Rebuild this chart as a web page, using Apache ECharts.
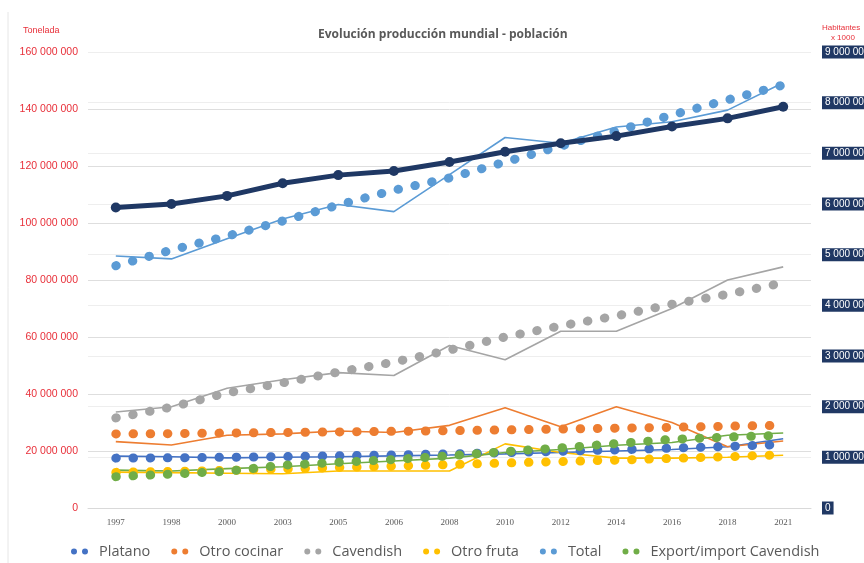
<!DOCTYPE html>
<html>
<head>
<meta charset="utf-8">
<script src="https://cdn.jsdelivr.net/npm/echarts@6/dist/echarts.min.js"></script>
<style>
html,body{margin:0;padding:0;background:#fff;overflow:hidden;}
#chart{width:864px;height:563px;}
</style>
</head>
<body>
<div id="chart"></div>
<script>
// ---- Data ----
var categories = ['1997','1998','2000','2003','2005','2006','2008','2010','2012','2014','2016','2018','2021'];

// Population (habitantes x 1000), right axis
var poblacion = [5930000, 6000000, 6160000, 6410000, 6570000, 6650000, 6830000, 7030000, 7200000, 7340000, 7530000, 7690000, 7920000];

// Dotted series (tonelada)
var platano       = [17.5e6, 17.6e6, 17.8e6, 18.0e6, 18.3e6, 18.6e6, 19.0e6, 19.4e6, 19.9e6, 20.4e6, 21.0e6, 21.6e6, 22.3e6];
var otroCocinar   = [26.0e6, 26.1e6, 26.3e6, 26.5e6, 26.7e6, 26.9e6, 27.1e6, 27.4e6, 27.7e6, 28.0e6, 28.3e6, 28.7e6, 29.0e6];
var cavendish     = [31.6e6, 35.4e6, 40.4e6, 43.9e6, 47.7e6, 51.2e6, 55.4e6, 60.0e6, 63.9e6, 67.4e6, 71.5e6, 75.0e6, 79.0e6];
var otroFruta     = [12.5e6, 12.8e6, 13.2e6, 13.7e6, 14.2e6, 14.7e6, 15.2e6, 15.8e6, 16.3e6, 16.8e6, 17.4e6, 18.0e6, 18.7e6];
var total         = [85.0e6, 90.5e6, 95.4e6, 100.7e6, 106.3e6, 111.5e6, 115.8e6, 121.4e6, 127.0e6, 132.3e6, 137.9e6, 143.2e6, 148.4e6];
var exportImport  = [11.0e6, 11.9e6, 12.9e6, 15.0e6, 16.0e6, 17.0e6, 18.3e6, 19.8e6, 21.1e6, 22.6e6, 24.1e6, 24.9e6, 25.5e6];

// Thin solid series (tonelada)
var platanoReal      = [18.2e6, 18.0e6, 17.6e6, 17.8e6, 18.0e6, 18.3e6, 18.6e6, 19.0e6, 19.5e6, 20.0e6, 20.5e6, 21.5e6, 24.3e6];
var otroCocinarReal  = [23.3e6, 22.1e6, 25.5e6, 26.0e6, 27.0e6, 26.5e6, 29.0e6, 35.2e6, 28.5e6, 35.5e6, 30.0e6, 21.5e6, 23.5e6];
var cavendishReal    = [33.7e6, 35.5e6, 42.0e6, 45.0e6, 47.5e6, 46.5e6, 57.0e6, 52.0e6, 62.0e6, 62.0e6, 70.0e6, 80.0e6, 84.6e6];
var otroFrutaReal    = [12.6e6, 12.4e6, 12.2e6, 12.0e6, 13.0e6, 13.0e6, 13.0e6, 22.5e6, 19.5e6, 17.5e6, 17.5e6, 17.8e6, 18.5e6];
var totalReal        = [88.4e6, 87.4e6, 94.5e6, 101.4e6, 106.5e6, 104.0e6, 117.0e6, 130.0e6, 128.0e6, 133.7e6, 135.5e6, 139.6e6, 149.2e6];
var exportImportReal = [13.3e6, 13.0e6, 13.8e6, 14.5e6, 15.5e6, 16.5e6, 17.5e6, 19.5e6, 20.5e6, 22.0e6, 23.0e6, 25.5e6, 26.3e6];

var legendNames = ['Platano', 'Otro cocinar', 'Cavendish', 'Otro fruta', 'Total', 'Export/import Cavendish'];
var colors = ['#4472c4', '#ed7d31', '#a5a5a5', '#ffc000', '#5b9bd5', '#70ad47'];

// ---- Helpers ----
function spaced(v) {
  return String(Math.round(v)).replace(/\B(?=(\d{3})+(?!\d))/g, ' ');
}
var dotted = [platano, otroCocinar, cavendish, otroFruta, total, exportImport];
var thin = [platanoReal, otroCocinarReal, cavendishReal, otroFrutaReal, totalReal, exportImportReal];

var series = [];
for (var i = 0; i < 6; i++) {
  series.push({
    name: legendNames[i] + ' (serie)',
    type: 'line',
    data: thin[i],
    symbol: 'none',
    color: colors[i],
    lineStyle: { width: 1.6, color: colors[i] },
    z: 2,
    silent: true
  });
}
for (var j = 0; j < 6; j++) {
  series.push({
    name: legendNames[j],
    type: 'line',
    data: dotted[j],
    symbol: 'none',
    color: colors[j],
    lineStyle: { width: 9, color: colors[j], type: [0.5, 16.7], cap: 'round' },
    z: 3
  });
}
series.push({
  name: 'Población',
  type: 'line',
  yAxisIndex: 1,
  data: poblacion,
  symbol: 'circle',
  symbolSize: 10,
  color: '#1f3864',
  itemStyle: { color: '#1f3864' },
  lineStyle: { width: 5, color: '#1f3864' },
  z: 5
});

var chart = echarts.init(document.getElementById('chart'), null, { renderer: 'canvas', width: 864, height: 563 });
chart.setOption({
  animation: false,
  backgroundColor: '#ffffff',
  title: {
    text: 'Evolución producción mundial - población',
    left: 313, top: 24,
    textStyle: { fontSize: 12, fontWeight: 'bold', color: '#595959', fontFamily: 'Open Sans' }
  },
  grid: { left: 88, right: 53, top: 52, bottom: 55, containLabel: false, outerBoundsMode: 'none' },
  legend: {
    data: legendNames,
    left: 66, top: 539,
    itemGap: 21,
    itemWidth: 17, itemHeight: 6,
    icon: 'path://M0,3a3,3 0 1,0 6,0a3,3 0 1,0 -6,0M11,3a3,3 0 1,0 6,0a3,3 0 1,0 -6,0',
    textStyle: { fontSize: 14.5, color: '#595959', fontFamily: 'Open Sans', padding: [0, 0, 0, 6] }
  },
  xAxis: {
    type: 'category',
    data: categories,
    boundaryGap: true,
    axisLine: { lineStyle: { color: '#d9d9d9' } },
    axisTick: { show: false },
    axisLabel: { fontSize: 9, color: '#595959', margin: 10, fontFamily: 'Liberation Serif' }
  },
  yAxis: [
    {
      type: 'value', min: 0, max: 160e6, interval: 20e6,
      axisLine: { show: false }, axisTick: { show: false },
      axisLabel: { color: '#e8303a', fontSize: 10.5, margin: 10, fontFamily: 'Liberation Sans', formatter: spaced },
      splitLine: { lineStyle: { color: '#dedede', width: 1 } }
    },
    {
      type: 'value', min: 0, max: 9e6, interval: 1e6, position: 'right',
      axisLine: { show: false }, axisTick: { show: false },
      axisLabel: {
        color: '#ffffff', fontSize: 10, margin: 11, fontFamily: 'Liberation Sans',
        backgroundColor: '#203864', padding: [2, 3, 1, 3],
        formatter: spaced
      },
      splitLine: { lineStyle: { color: '#eeeeee', width: 1 } }
    }
  ],
  graphic: [
    { type: 'text', left: 23, top: 26, style: { text: 'Tonelada', fontSize: 9, fill: '#e8303a', fontFamily: 'Liberation Sans' } },
    { type: 'text', left: 822, top: 23, style: { text: 'Habitantes\n    x 1000', fontSize: 8, lineHeight: 10, fill: '#e8303a', fontFamily: 'Liberation Sans' } },
    { type: 'line', shape: { x1: 8, y1: 12, x2: 8, y2: 563 }, style: { stroke: '#e6e6e6', lineWidth: 1 } }
  ],
  series: series
});
</script>
</body>
</html>
